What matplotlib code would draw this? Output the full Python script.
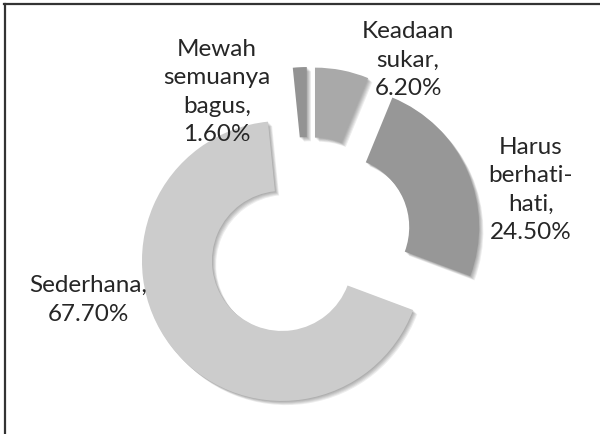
import matplotlib
matplotlib.use("Agg")
import matplotlib.pyplot as plt
import matplotlib.patheffects as pe
from matplotlib.lines import Line2D

# Data
categories = ["Keadaan sukar", "Harus berhati-hati", "Sederhana", "Mewah semuanya bagus"]
values = [6.2, 24.5, 67.7, 1.6]
label_texts = ["Keadaan\nsukar,\n6.20%", "Harus\nberhati-\nhati,\n24.50%",
               "Sederhana,\n67.70%", "Mewah\nsemuanya\nbagus,\n1.60%"]
colors = ["#a9a9a9", "#979797", "#cccccc", "#939393"]

plt.rcParams['font.family'] = ['Lato', 'DejaVu Sans']

W, H = 600, 435
fig = plt.figure(figsize=(6.0, 4.35), dpi=100)
ax = fig.add_axes([0, 0, 1, 1])
ax.set_xlim(0, W)
ax.set_ylim(0, H)
ax.set_aspect('equal')
ax.axis('off')

radius = 140
center = (308.5, H - 241.5)
explode = [33.5] * len(values)

shadow = [pe.SimplePatchShadow(offset=(o, -o), shadow_rgbFace='black', alpha=0.07)
          for o in (0.6, 1.2, 1.8, 2.4, 3.0)] + [pe.Normal()]

wedges, _ = ax.pie(values, radius=radius, center=center, startangle=90,
                   counterclock=False, explode=explode, colors=colors,
                   wedgeprops=dict(width=radius * 0.5, linewidth=0))
for w in wedges:
    w.set_path_effects(shadow)
ax.set_xlim(0, W)
ax.set_ylim(0, H)

# labels (positions in pixel-like data coords)
label_pos = [(408, H - 60), (531, H - 190), (88, H - 300), (217, H - 92)]
for txt, (x, y) in zip(label_texts, label_pos):
    ax.text(x, y, txt, ha='center', va='center', fontsize=17.5,
            color='#262626', linespacing=1.45)

# frame lines (top and left)
fig.add_artist(Line2D([4 / W, 1], [1 - 5 / H, 1 - 5 / H], color='#333333', lw=1.6,
                      transform=fig.transFigure))
fig.add_artist(Line2D([4.5 / W, 4.5 / W], [0, 1 - 5 / H], color='#333333', lw=1.6,
                      transform=fig.transFigure))

fig.savefig("out.png", dpi=100)
